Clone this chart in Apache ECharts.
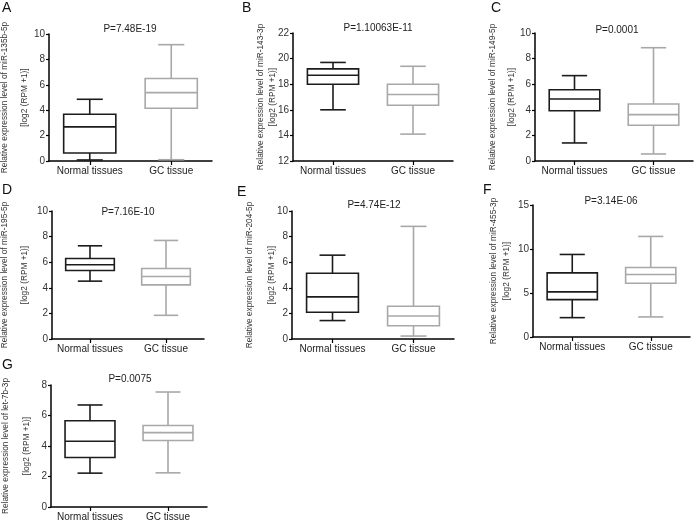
<!DOCTYPE html>
<html><head><meta charset="utf-8">
<script src="https://cdn.jsdelivr.net/npm/echarts@6/dist/echarts.min.js"></script>
<style>html,body{margin:0;padding:0;background:#fff}#c{width:695px;height:522px}</style>
</head><body><div id="c"></div>
<script>
// ---- data ----
const categories = ['Normal tissues', 'GC tissue'];
const panelLetters = ['A', 'B', 'C', 'D', 'E', 'F', 'G'];
const mirnas = ['miR-135b-5p', 'miR-143-3p', 'miR-149-5p', 'miR-195-5p', 'miR-204-5p', 'miR-455-3p', 'let-7b-3p'];
const pLabels = ['P=7.48E-19', 'P=1.10063E-11', 'P=0.0001', 'P=7.16E-10', 'P=4.74E-12', 'P=3.14E-06', 'P=0.0075'];
// [min, Q1, median, Q3, max]
const normalA = [0.08, 0.63, 2.69, 3.68, 4.86];
const gcA     = [0.10, 4.15, 5.38, 6.50, 9.16];
const normalB = [16.0, 18.0, 18.7, 19.2, 19.7];
const gcB     = [14.1, 16.35, 17.2, 18.0, 19.4];
const normalC = [1.41, 3.93, 4.84, 5.57, 6.67];
const gcC     = [0.55, 2.79, 3.62, 4.45, 8.85];
const normalD = [4.52, 5.35, 5.80, 6.29, 7.28];
const gcD     = [1.85, 4.23, 4.88, 5.51, 7.70];
const normalE = [1.44, 2.09, 3.29, 5.14, 6.55];
const gcE     = [0.23, 1.04, 1.80, 2.56, 8.80];
const normalF = [2.20, 4.25, 5.13, 7.29, 9.38];
const gcF     = [2.28, 6.11, 7.10, 7.90, 11.43];
const normalG = [2.22, 3.25, 4.31, 5.66, 6.69];
const gcG     = [2.24, 4.36, 4.88, 5.34, 7.54];
const normalStats = [normalA, normalB, normalC, normalD, normalE, normalF, normalG];
const gcStats = [gcA, gcB, gcC, gcD, gcE, gcF, gcG];
const yMins = [0, 12, 0, 0, 0, 0, 0];
const yMaxs = [10, 22, 10, 10, 10, 15, 8];
const yIntervals = [2, 2, 2, 2, 2, 5, 2];

// ---- layout ----
const FONT = '"Liberation Sans", Arial, Helvetica, sans-serif';
const grids = [
  {left: 49, top: 34, width: 163, height: 127},
  {left: 293, top: 33, width: 160, height: 128},
  {left: 535, top: 33, width: 158, height: 128},
  {left: 52, top: 211, width: 152, height: 128},
  {left: 292, top: 211, width: 162, height: 128},
  {left: 533, top: 205, width: 157, height: 132},
  {left: 51, top: 385, width: 156, height: 122}
];
const pPos = [[130, 29], [378, 28], [617, 30], [128, 212], [374, 205], [611, 201], [130, 379]];
const namePos = [[14, 20], [14, 12], [13.5, 19], [17, 20], [9, 22], [20, 13], [13.5, 21]]; // nameGap, lineHeight
const letterPos = [[2, 8], [242, 8], [491, 8], [2, 190], [237, 192], [483, 190], [2, 365]];
const boxColors = ['#1c1c1c', '#a8a8a8'];

function renderItem(params, api) {
  const ci = api.value(0);
  const color = boxColors[ci];
  const band = api.size([1, 0])[0];
  const bw = band * 0.64, cw = bw * 0.5;
  const pMin = api.coord([ci, api.value(1)]);
  const pQ1 = api.coord([ci, api.value(2)]);
  const pMed = api.coord([ci, api.value(3)]);
  const pQ3 = api.coord([ci, api.value(4)]);
  const pMax = api.coord([ci, api.value(5)]);
  const x = pMed[0];
  const st = {stroke: color, lineWidth: 1.6, fill: 'transparent'};
  return {type: 'group', children: [
    {type: 'line', shape: {x1: x, y1: pQ3[1], x2: x, y2: pMax[1]}, style: st},
    {type: 'line', shape: {x1: x, y1: pQ1[1], x2: x, y2: pMin[1]}, style: st},
    {type: 'line', shape: {x1: x - cw / 2, y1: pMax[1], x2: x + cw / 2, y2: pMax[1]}, style: st},
    {type: 'line', shape: {x1: x - cw / 2, y1: pMin[1], x2: x + cw / 2, y2: pMin[1]}, style: st},
    {type: 'rect', shape: {x: x - bw / 2, y: pQ3[1], width: bw, height: pQ1[1] - pQ3[1]}, style: {stroke: color, lineWidth: 1.6, fill: '#fff'}},
    {type: 'line', shape: {x1: x - bw / 2, y1: pMed[1], x2: x + bw / 2, y2: pMed[1]}, style: st}
  ]};
}

const option = {
  backgroundColor: '#fff',
  animation: false,
  grid: [], xAxis: [], yAxis: [], series: [], graphic: []
};
for (let i = 0; i < 7; i++) {
  option.grid.push(Object.assign({outerBoundsMode: 'none', containLabel: false}, grids[i]));
  option.xAxis.push({
    type: 'category', gridIndex: i, data: categories,
    axisLine: {show: true, lineStyle: {color: '#000', width: 1.5}},
    axisTick: {show: true, alignWithLabel: true, length: 4, lineStyle: {color: '#000', width: 1.2}},
    axisLabel: {interval: 0, fontSize: 10, color: '#222', margin: 5, fontFamily: FONT},
    splitLine: {show: false}
  });
  option.yAxis.push({
    type: 'value', gridIndex: i, min: yMins[i], max: yMaxs[i], interval: yIntervals[i],
    axisLine: {show: true, lineStyle: {color: '#000', width: 1.5}},
    axisTick: {show: true, length: 3, lineStyle: {color: '#000', width: 1.2}},
    axisLabel: {fontSize: 10, color: '#333', margin: 4, fontFamily: FONT},
    splitLine: {show: false},
    name: 'Relative expression level of ' + mirnas[i] + '\n[log2 (RPM +1)]',
    nameLocation: 'middle', nameRotate: 90, nameGap: namePos[i][0], nameMoveOverlap: false,
    nameTextStyle: {fontSize: 8.3, lineHeight: namePos[i][1], color: '#333', fontFamily: FONT}
  });
  option.series.push({
    type: 'custom', xAxisIndex: i, yAxisIndex: i,
    renderItem: renderItem,
    encode: {x: 0, y: [1, 2, 3, 4, 5]},
    data: [[0].concat(normalStats[i]), [1].concat(gcStats[i])],
    clip: false
  });
  option.graphic.push({
    type: 'text', x: pPos[i][0], y: pPos[i][1],
    style: {text: pLabels[i], fontSize: 10, fontFamily: FONT, fill: '#222',
      textAlign: 'center', textVerticalAlign: 'middle', align: 'center', verticalAlign: 'middle'}
  });
  option.graphic.push({
    type: 'text', x: letterPos[i][0], y: letterPos[i][1],
    style: {text: panelLetters[i], fontSize: 14, fontFamily: FONT, fill: '#111',
      textAlign: 'left', textVerticalAlign: 'middle', align: 'left', verticalAlign: 'middle'}
  });
}
const chart = echarts.init(document.getElementById('c'), null, {renderer: 'canvas'});
chart.setOption(option);
</script>
</body></html>
